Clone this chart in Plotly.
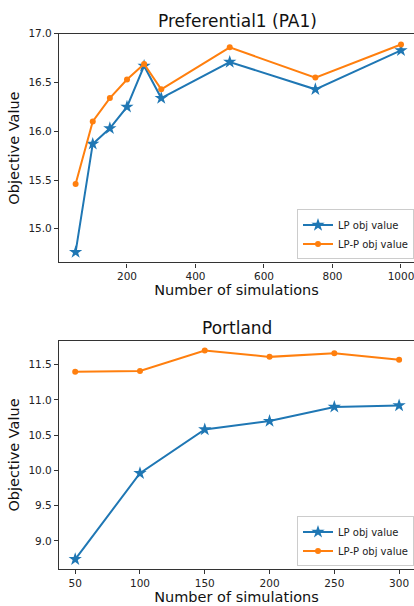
import plotly.graph_objects as go

W, H = 414, 606

# Data: Preferential1 (PA1)
pa_sims = [50, 100, 150, 200, 250, 300, 500, 750, 1000]
pa_lp = [14.76, 15.87, 16.03, 16.25, 16.67, 16.34, 16.71, 16.43, 16.83]
pa_lpp = [15.46, 16.10, 16.34, 16.53, 16.69, 16.43, 16.86, 16.55, 16.89]

# Data: Portland
po_sims = [50, 100, 150, 200, 250, 300]
po_lp = [8.74, 9.96, 10.58, 10.70, 10.90, 10.92]
po_lpp = [11.40, 11.41, 11.70, 11.61, 11.66, 11.57]

BLUE = "#1f77b4"
ORANGE = "#ff7f0e"
FONT = "DejaVu Sans"

fig = go.Figure()

def add_pair(x, lp, lpp, xa, ya, leg):
    fig.add_trace(go.Scatter(x=x, y=lp, mode="lines+markers", name="LP obj value",
                             line=dict(color=BLUE, width=2),
                             marker=dict(symbol="star", size=10, color=BLUE),
                             xaxis=xa, yaxis=ya, legend=leg))
    fig.add_trace(go.Scatter(x=x, y=lpp, mode="lines+markers", name="LP-P obj value",
                             line=dict(color=ORANGE, width=2),
                             marker=dict(symbol="circle", size=6, color=ORANGE),
                             xaxis=xa, yaxis=ya, legend=leg))

add_pair(pa_sims, pa_lp, pa_lpp, "x", "y", "legend")
add_pair(po_sims, po_lp, po_lpp, "x2", "y2", "legend2")

def px_x(p):
    return p / W

def px_y(p):
    return 1 - p / H

axis_common = dict(showline=True, linecolor="#333333", linewidth=1.2, ticks="outside",
                   ticklen=4, tickcolor="#333333", showgrid=False, zeroline=False,
                   ticklabeloverflow="allow",
                   tickfont=dict(family=FONT, size=10.5, color="#222222"),
                   title_font=dict(family=FONT, size=14.5, color="#111111"))

leg_common = dict(xanchor="left", yanchor="bottom",
                  bgcolor="rgba(255,255,255,0.8)", bordercolor="#cccccc", borderwidth=1,
                  font=dict(family=FONT, size=10, color="#222222"), tracegroupgap=0,
                  itemwidth=30)

fig.update_layout(
    width=W, height=H, margin=dict(l=0, r=0, t=0, b=0),
    plot_bgcolor="white", paper_bgcolor="white",
    font=dict(family=FONT, color="#222222"),
    xaxis=dict(axis_common, domain=[px_x(59), 1], range=[1.5, 1038], mirror=True,
               anchor="y", tickvals=[200, 400, 600, 800, 1000],
               title=dict(text="Number of simulations", standoff=1)),
    yaxis=dict(axis_common, domain=[px_y(259), px_y(28)], range=[14.655, 17.0],
               anchor="x", tickvals=[15.0, 15.5, 16.0, 16.5, 17.0], tickformat=".1f",
               title=dict(text="Objective Value", standoff=5)),
    xaxis2=dict(axis_common, domain=[px_x(59), 1], range=[37.5, 311.5], mirror=True,
                anchor="y2", tickvals=[50, 100, 150, 200, 250, 300],
                title=dict(text="Number of simulations", standoff=1)),
    yaxis2=dict(axis_common, domain=[px_y(569), px_y(338)], range=[8.597, 11.84],
                anchor="x2", tickvals=[9.0, 9.5, 10.0, 10.5, 11.0, 11.5], tickformat=".1f",
                title=dict(text="Objective Value", standoff=5)),
    legend=dict(leg_common, x=px_x(297), y=px_y(256)),
    legend2=dict(leg_common, x=px_x(297), y=px_y(566)),
    annotations=[
        dict(text="Preferential1 (PA1)", x=px_x(237), y=px_y(15), xref="paper", yref="paper",
             xanchor="center", yanchor="middle",
             showarrow=False, font=dict(family=FONT, size=17, color="#111111")),
        dict(text="Portland", x=px_x(237), y=px_y(325), xref="paper", yref="paper",
             xanchor="center", yanchor="middle",
             showarrow=False, font=dict(family=FONT, size=17, color="#111111")),
    ],
)

fig.write_html("out.html", config={"displayModeBar": False},
               post_script="document.body.style.margin='0';document.body.style.padding='0';"
                           "document.body.style.overflow='hidden';")
